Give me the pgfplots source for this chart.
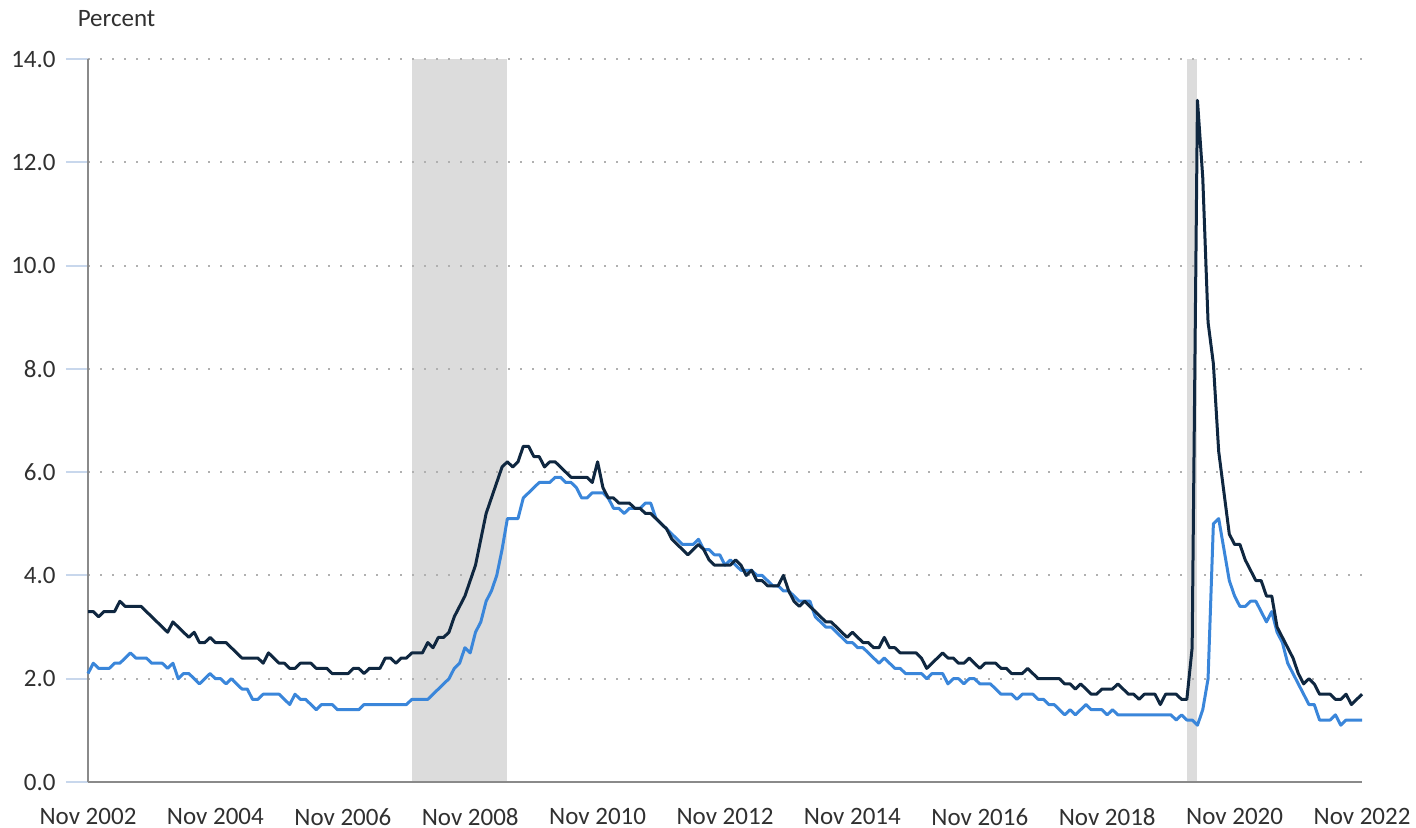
\documentclass[border=0pt]{standalone}
\usepackage{fontspec}
\setmainfont{Carlito}
\usepackage{pgfplots}
\usepackage{pgfplotstable}
\pgfplotsset{compat=1.18}
\usetikzlibrary{calc}
\definecolor{darkline}{HTML}{0F2740}
\definecolor{blueline}{HTML}{3A86DA}
\definecolor{shade}{HTML}{DCDCDC}
\definecolor{gridc}{HTML}{B0B0B0}
\definecolor{axisc}{HTML}{8A8A8A}
\definecolor{tickc}{HTML}{C8D7EC}
\definecolor{textc}{HTML}{303030}

\pgfplotstableread{
i d b
0 3.3 2.1
1 3.3 2.3
2 3.2 2.2
3 3.3 2.2
4 3.3 2.2
5 3.3 2.3
6 3.5 2.3
7 3.4 2.4
8 3.4 2.5
9 3.4 2.4
10 3.4 2.4
11 3.3 2.4
12 3.2 2.3
13 3.1 2.3
14 3.0 2.3
15 2.9 2.2
16 3.1 2.3
17 3.0 2.0
18 2.9 2.1
19 2.8 2.1
20 2.9 2.0
21 2.7 1.9
22 2.7 2.0
23 2.8 2.1
24 2.7 2.0
25 2.7 2.0
26 2.7 1.9
27 2.6 2.0
28 2.5 1.9
29 2.4 1.8
30 2.4 1.8
31 2.4 1.6
32 2.4 1.6
33 2.3 1.7
34 2.5 1.7
35 2.4 1.7
36 2.3 1.7
37 2.3 1.6
38 2.2 1.5
39 2.2 1.7
40 2.3 1.6
41 2.3 1.6
42 2.3 1.5
43 2.2 1.4
44 2.2 1.5
45 2.2 1.5
46 2.1 1.5
47 2.1 1.4
48 2.1 1.4
49 2.1 1.4
50 2.2 1.4
51 2.2 1.4
52 2.1 1.5
53 2.2 1.5
54 2.2 1.5
55 2.2 1.5
56 2.4 1.5
57 2.4 1.5
58 2.3 1.5
59 2.4 1.5
60 2.4 1.5
61 2.5 1.6
62 2.5 1.6
63 2.5 1.6
64 2.7 1.6
65 2.6 1.7
66 2.8 1.8
67 2.8 1.9
68 2.9 2.0
69 3.2 2.2
70 3.4 2.3
71 3.6 2.6
72 3.9 2.5
73 4.2 2.9
74 4.7 3.1
75 5.2 3.5
76 5.5 3.7
77 5.8 4.0
78 6.1 4.5
79 6.2 5.1
80 6.1 5.1
81 6.2 5.1
82 6.5 5.5
83 6.5 5.6
84 6.3 5.7
85 6.3 5.8
86 6.1 5.8
87 6.2 5.8
88 6.2 5.9
89 6.1 5.9
90 6.0 5.8
91 5.9 5.8
92 5.9 5.7
93 5.9 5.5
94 5.9 5.5
95 5.8 5.6
96 6.2 5.6
97 5.7 5.6
98 5.5 5.5
99 5.5 5.3
100 5.4 5.3
101 5.4 5.2
102 5.4 5.3
103 5.3 5.3
104 5.3 5.3
105 5.2 5.4
106 5.2 5.4
107 5.1 5.1
108 5.0 5.0
109 4.9 4.9
110 4.7 4.8
111 4.6 4.7
112 4.5 4.6
113 4.4 4.6
114 4.5 4.6
115 4.6 4.7
116 4.5 4.5
117 4.3 4.5
118 4.2 4.4
119 4.2 4.4
120 4.2 4.2
121 4.2 4.3
122 4.3 4.2
123 4.2 4.1
124 4.0 4.1
125 4.1 4.1
126 3.9 4.0
127 3.9 4.0
128 3.8 3.9
129 3.8 3.8
130 3.8 3.8
131 4.0 3.7
132 3.7 3.7
133 3.5 3.6
134 3.4 3.5
135 3.5 3.5
136 3.4 3.5
137 3.3 3.2
138 3.2 3.1
139 3.1 3.0
140 3.1 3.0
141 3.0 2.9
142 2.9 2.8
143 2.8 2.7
144 2.9 2.7
145 2.8 2.6
146 2.7 2.6
147 2.7 2.5
148 2.6 2.4
149 2.6 2.3
150 2.8 2.4
151 2.6 2.3
152 2.6 2.2
153 2.5 2.2
154 2.5 2.1
155 2.5 2.1
156 2.5 2.1
157 2.4 2.1
158 2.2 2.0
159 2.3 2.1
160 2.4 2.1
161 2.5 2.1
162 2.4 1.9
163 2.4 2.0
164 2.3 2.0
165 2.3 1.9
166 2.4 2.0
167 2.3 2.0
168 2.2 1.9
169 2.3 1.9
170 2.3 1.9
171 2.3 1.8
172 2.2 1.7
173 2.2 1.7
174 2.1 1.7
175 2.1 1.6
176 2.1 1.7
177 2.2 1.7
178 2.1 1.7
179 2.0 1.6
180 2.0 1.6
181 2.0 1.5
182 2.0 1.5
183 2.0 1.4
184 1.9 1.3
185 1.9 1.4
186 1.8 1.3
187 1.9 1.4
188 1.8 1.5
189 1.7 1.4
190 1.7 1.4
191 1.8 1.4
192 1.8 1.3
193 1.8 1.4
194 1.9 1.3
195 1.8 1.3
196 1.7 1.3
197 1.7 1.3
198 1.6 1.3
199 1.7 1.3
200 1.7 1.3
201 1.7 1.3
202 1.5 1.3
203 1.7 1.3
204 1.7 1.3
205 1.7 1.2
206 1.6 1.3
207 1.6 1.2
208 2.6 1.2
209 13.2 1.1
210 11.7 1.4
211 8.9 2.0
212 8.1 5.0
213 6.4 5.1
214 5.6 4.5
215 4.8 3.9
216 4.6 3.6
217 4.6 3.4
218 4.3 3.4
219 4.1 3.5
220 3.9 3.5
221 3.9 3.3
222 3.6 3.1
223 3.6 3.3
224 3.0 2.9
225 2.8 2.7
226 2.6 2.3
227 2.4 2.1
228 2.1 1.9
229 1.9 1.7
230 2.0 1.5
231 1.9 1.5
232 1.7 1.2
233 1.7 1.2
234 1.7 1.2
235 1.6 1.3
236 1.6 1.1
237 1.7 1.2
238 1.5 1.2
239 1.6 1.2
240 1.7 1.2
}\datatable

\begin{document}
\begin{tikzpicture}[font=\fontsize{12.5}{15}\selectfont, text=textc]
\begin{axis}[
  name=ax, set layers, scale only axis,
  width=637pt, height=361.5pt,
  xmin=0, xmax=240, ymin=0, ymax=14,
  axis x line=bottom, axis y line=left,
  axis line style={-, color=axisc, line width=0.8pt},
  xtick={0,24,48,72,96,120,144,168,192,216,240},
  xticklabels={Nov 2002,Nov 2004,Nov 2006,Nov 2008,Nov 2010,Nov 2012,Nov 2014,Nov 2016,Nov 2018,Nov 2020,Nov 2022},
  ytick={0,2,4,6,8,10,12,14},
  yticklabels={0.0,2.0,4.0,6.0,8.0,10.0,12.0,14.0},
  ymajorgrids,
  grid style={gridc, line width=1pt, dash pattern=on 1pt off 5pt},
  tick align=outside, major tick length=11pt,
  xtick style={draw=none},
  ytick style={tickc, line width=1pt},
  xticklabel style={inner sep=0pt, anchor=north, yshift=-2pt},
  yticklabel style={inner sep=0pt, anchor=east, xshift=-5pt},
  clip=false,
]
\addplot[fill=shade, draw=none, on layer=axis background] coordinates {(61,14) (79,14)} \closedcycle;
\addplot[fill=shade, draw=none, on layer=axis background] coordinates {(207,14) (209,14)} \closedcycle;
\addplot[blueline, line width=1.5pt, line join=round, no marks] table[x=i, y=b] {\datatable};
\addplot[darkline, line width=1.5pt, line join=round, no marks] table[x=i, y=d] {\datatable};
\end{axis}
\node[anchor=base west, inner sep=0pt] at ($(ax.north west)+(-5.3pt,16.2pt)$) {Percent};
\path ($(ax.south west)+(-44pt,-23pt)$) rectangle ($(ax.north east)+(27pt,29.5pt)$);
\end{tikzpicture}
\end{document}
